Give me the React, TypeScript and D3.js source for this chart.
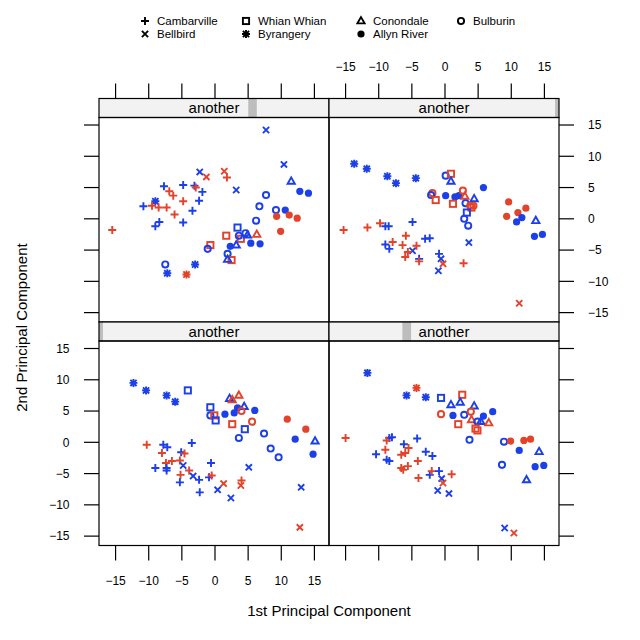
import React from "react";
import * as d3 from "d3";

const sites = ["Cambarville", "Bellbird", "Whian Whian", "Byrangery", "Conondale", "Allyn River", "Bulburin"];
const shapes = ["plus", "cross", "square", "asterisk", "triangle", "dot", "circle"];
const sexColor: Record<string, string> = { m: "#1b3fe8", f: "#e2432a" };
const stripLabel = "another";
const tickValues = [-15, -10, -5, 0, 5, 10, 15];

// [pc1, pc2, site, sex]
type Pt = [number, number, number, string];

const topLeft: Pt[] = [
  [7.7, 14.2, 1, "m"], [10.4, 8.7, 1, "m"], [11.5, 6.0, 4, "m"], [12.8, 4.4, 5, "m"], [14.1, 4.1, 5, "m"],
  [-2.3, 7.5, 1, "m"], [1.4, 7.6, 1, "f"], [1.8, 6.6, 0, "f"], [-1.3, 6.7, 1, "f"], [3.2, 4.6, 1, "m"],
  [7.7, 3.8, 6, "m"], [6.7, 2.0, 6, "m"], [9.2, 1.4, 6, "m"], [10.6, 1.4, 5, "m"], [9.3, 0.4, 5, "f"],
  [11.2, 0.6, 5, "f"], [12.4, 0.1, 5, "f"], [9.9, -2.0, 5, "f"], [6.2, -0.3, 6, "m"], [3.4, -1.4, 2, "m"],
  [1.7, -2.7, 2, "f"], [3.9, -3.2, 2, "f"], [3.6, -2.7, 6, "m"], [4.6, -2.3, 6, "m"], [4.9, -2.6, 4, "m"],
  [6.3, -2.5, 4, "f"], [5.4, -3.9, 5, "m"], [6.8, -4.0, 5, "m"], [2.3, -4.4, 5, "m"], [3.2, -4.2, 4, "m"],
  [-0.7, -4.2, 2, "f"], [-1.1, -4.8, 6, "m"], [1.9, -5.6, 6, "m"], [2.5, -6.6, 2, "f"], [1.9, -6.5, 4, "m"],
  [-7.5, -7.3, 6, "m"], [-7.2, -8.7, 3, "m"], [-3.0, -7.3, 3, "m"], [-4.3, -8.9, 3, "f"], [-15.5, -1.8, 0, "f"],
  [-10.8, 2.0, 0, "m"], [-9.0, -1.2, 0, "m"], [-8.4, -0.5, 0, "m"], [-4.8, -0.6, 0, "m"], [-7.7, 5.2, 0, "m"],
  [-4.8, 5.4, 0, "m"], [-3.1, 5.3, 0, "m"], [-2.9, 5.0, 0, "f"], [-1.9, 4.3, 0, "m"], [-2.4, 2.9, 0, "m"],
  [-3.4, 1.3, 0, "m"], [-4.8, 2.8, 0, "f"], [-6.9, 4.4, 0, "f"], [-6.3, 3.7, 0, "f"], [-9.0, 2.8, 3, "m"],
  [-9.5, 2.1, 0, "f"], [-8.5, 1.8, 0, "f"], [-7.3, 1.8, 0, "f"], [-6.1, 0.7, 0, "f"],
];

const topRight: Pt[] = [
  [-13.7, 8.8, 3, "m"], [-11.8, 8.0, 3, "m"], [-8.7, 6.8, 3, "m"], [-7.4, 5.7, 3, "m"], [-4.4, 6.5, 3, "m"],
  [0.1, 6.9, 6, "m"], [0.9, 7.2, 2, "f"], [0.9, 6.0, 4, "m"], [-1.9, 4.1, 6, "f"], [-2.1, 3.8, 6, "m"],
  [-1.4, 3.0, 2, "f"], [0.1, 3.7, 5, "m"], [1.5, 3.5, 5, "m"], [2.1, 3.7, 5, "m"], [1.2, 2.4, 2, "f"],
  [2.7, 4.5, 6, "f"], [3.0, 3.6, 4, "f"], [4.4, 3.2, 4, "m"], [3.1, 2.5, 6, "m"], [3.8, 2.1, 6, "f"],
  [4.3, 2.1, 6, "f"], [4.0, 1.8, 2, "f"], [5.8, 5.0, 5, "m"], [3.3, 1.0, 2, "m"], [2.9, 0.0, 6, "m"],
  [3.5, -1.1, 6, "m"], [9.6, 2.7, 5, "f"], [12.2, 1.7, 5, "f"], [11.0, 1.0, 5, "f"], [9.3, 0.4, 5, "f"],
  [11.6, 0.2, 5, "m"], [10.8, -0.5, 5, "m"], [13.7, -0.3, 4, "m"], [13.5, -2.8, 5, "m"], [14.7, -2.5, 5, "m"],
  [3.6, -3.8, 1, "m"], [11.2, -13.5, 1, "f"], [-15.3, -1.8, 0, "f"], [-11.7, -1.4, 0, "f"], [-9.8, -0.7, 0, "f"],
  [-9.0, -1.2, 0, "m"], [-8.5, -1.2, 0, "m"], [-4.9, -0.5, 0, "m"], [-5.9, -2.7, 0, "f"], [-3.0, -3.2, 0, "m"],
  [-2.3, -3.1, 0, "m"], [-7.9, -3.7, 0, "f"], [-9.0, -4.1, 0, "m"], [-8.4, -4.8, 0, "m"], [-6.4, -4.2, 0, "f"],
  [-4.3, -4.3, 0, "f"], [-4.9, -5.1, 1, "m"], [-5.6, -5.3, 0, "f"], [-6.0, -6.1, 0, "f"], [-3.9, -6.4, 0, "m"],
  [-3.9, -6.8, 0, "f"], [-0.9, -5.6, 0, "m"], [-0.6, -6.4, 1, "m"], [-0.3, -7.2, 1, "f"], [-1.0, -8.3, 1, "m"],
  [2.8, -7.1, 0, "f"],
];

const bottomLeft: Pt[] = [
  [-12.3, 9.5, 3, "m"], [-10.4, 8.3, 3, "m"], [-7.3, 7.5, 3, "m"], [-6.0, 6.5, 3, "m"], [-4.1, 8.3, 2, "m"],
  [2.2, 7.0, 4, "m"], [3.6, 7.5, 4, "f"], [2.6, 6.8, 4, "f"], [4.4, 5.7, 4, "m"], [3.4, 5.5, 5, "m"],
  [2.9, 4.7, 5, "m"], [1.5, 4.5, 5, "m"], [4.0, 5.0, 6, "f"], [6.0, 5.1, 5, "m"], [-0.7, 5.6, 2, "m"],
  [-0.7, 4.3, 6, "m"], [-0.1, 4.3, 2, "f"], [0.1, 3.5, 2, "m"], [2.6, 2.9, 2, "f"], [5.6, 3.3, 6, "f"],
  [4.5, 2.1, 2, "m"], [3.6, 0.7, 6, "m"], [7.4, 1.4, 6, "m"], [8.4, -1.0, 6, "m"], [9.6, -2.4, 6, "m"],
  [10.9, 3.7, 5, "f"], [13.7, 2.1, 5, "f"], [12.1, 0.5, 5, "m"], [15.1, 0.2, 4, "m"], [14.8, -1.9, 5, "m"],
  [5.1, -4.0, 1, "m"], [13.0, -7.2, 1, "m"], [12.8, -13.6, 1, "f"], [1.3, -6.6, 1, "f"], [4.0, -6.1, 0, "f"],
  [3.9, -6.9, 1, "f"], [0.4, -7.6, 1, "m"], [2.4, -8.9, 1, "m"], [-10.3, -0.4, 0, "f"], [-7.8, -0.4, 0, "m"],
  [-7.2, -0.8, 0, "m"], [-3.5, -0.1, 0, "m"], [-8.0, -1.7, 0, "f"], [-5.1, -1.6, 0, "m"], [-4.6, -1.8, 0, "f"],
  [-7.4, -3.3, 0, "f"], [-6.5, -3.0, 0, "f"], [-5.3, -2.9, 0, "f"], [-9.0, -4.1, 0, "m"], [-7.3, -4.1, 0, "m"],
  [-7.3, -4.5, 0, "m"], [-4.8, -3.7, 1, "m"], [-3.9, -4.5, 0, "f"], [-0.6, -3.3, 0, "m"], [-5.2, -5.2, 0, "f"],
  [-5.3, -6.4, 0, "m"], [-3.3, -5.4, 1, "m"], [-2.4, -6.0, 0, "m"], [-0.9, -5.6, 0, "m"], [-0.5, -5.3, 0, "f"],
  [-2.3, -8.0, 0, "m"],
];

const bottomRight: Pt[] = [
  [-11.7, 11.1, 3, "m"], [-4.3, 8.7, 3, "f"], [-5.8, 7.5, 3, "m"], [-2.9, 7.2, 3, "m"], [-0.6, 7.1, 2, "m"],
  [2.6, 7.6, 2, "f"], [0.9, 6.0, 4, "m"], [2.3, 6.4, 4, "m"], [4.4, 5.8, 4, "m"], [-0.6, 4.5, 6, "f"],
  [1.2, 4.3, 5, "m"], [2.9, 4.4, 6, "m"], [3.9, 4.9, 6, "f"], [4.0, 3.6, 4, "f"], [5.8, 4.2, 5, "m"],
  [7.2, 4.9, 5, "m"], [4.9, 3.3, 6, "m"], [5.4, 3.3, 4, "m"], [6.6, 3.1, 4, "f"], [2.0, 2.9, 2, "f"],
  [4.6, 2.2, 2, "f"], [4.9, 1.9, 2, "f"], [3.7, 0.4, 6, "m"], [8.9, 0.1, 6, "m"], [9.9, 0.2, 5, "f"],
  [11.9, 0.3, 5, "f"], [12.9, 0.5, 5, "f"], [11.2, -1.3, 5, "m"], [14.2, -1.5, 4, "m"], [13.6, -3.9, 5, "m"],
  [14.9, -3.7, 5, "m"], [8.6, -3.6, 6, "m"], [12.3, -6.0, 4, "m"], [9.0, -13.7, 1, "m"], [10.4, -14.5, 1, "f"],
  [-15.0, 0.7, 0, "f"], [-8.4, 0.7, 0, "m"], [-8.0, 0.8, 0, "m"], [-8.8, 0.3, 0, "f"], [-6.2, -0.3, 0, "m"],
  [-4.2, 0.6, 0, "m"], [-5.5, -0.9, 0, "f"], [-9.0, -1.2, 0, "f"], [-10.4, -1.9, 0, "m"], [-6.0, -1.7, 0, "f"],
  [-6.6, -2.0, 0, "f"], [-2.9, -1.5, 0, "m"], [-1.9, -2.2, 0, "m"], [-8.8, -2.8, 0, "m"], [-8.4, -3.0, 0, "m"],
  [-4.1, -3.0, 0, "f"], [-5.6, -3.8, 0, "f"], [-6.6, -4.1, 0, "f"], [-6.3, -4.4, 0, "f"], [-2.3, -5.2, 0, "m"],
  [-2.0, -4.6, 0, "f"], [-0.9, -4.6, 0, "m"], [-0.5, -5.8, 1, "m"], [-0.3, -6.5, 1, "f"], [1.0, -5.1, 0, "f"],
  [-4.0, -5.7, 0, "f"], [-1.1, -7.7, 1, "m"], [0.6, -8.2, 1, "m"],
];

// strip level indicator, as fraction of strip width
const stripLevels: [number, number][] = [[0.649, 0.686], [0.983, 1], [0, 0.017], [0.319, 0.357]];

const panelW = 230;
const plotH = 204.5;
const stripH = 19;
const left = 99;
const top = 98.5;
const font = "'Liberation Sans', Arial, Helvetica, sans-serif";

const x = d3.scaleLinear().domain([-17.5, 17.2]).range([0, panelW]);
const y = d3.scaleLinear().domain([-16.5, 16.2]).range([plotH, 0]);

const fmt = (t: number) => d3.format("")(t).replace("-", "\u2212");

function Symbol({ shape, color, cx, cy }: { shape: string; color: string; cx: number; cy: number }) {
  const s = 4;
  const c = 3.1;
  const sw = 1.9;
  const t = `translate(${cx},${cy})`;
  if (shape === "plus")
    return <path transform={t} d={`M${-s},0H${s}M0,${-s}V${s}`} stroke={color} strokeWidth={sw} fill="none" />;
  if (shape === "cross")
    return <path transform={t} d={`M${-c},${-c}L${c},${c}M${-c},${c}L${c},${-c}`} stroke={color} strokeWidth={sw} fill="none" />;
  if (shape === "asterisk")
    return (
      <path transform={t} d={`M${-s},0H${s}M0,${-s}V${s}M${-c},${-c}L${c},${c}M${-c},${c}L${c},${-c}`}
        stroke={color} strokeWidth={sw} fill="none" />
    );
  if (shape === "square")
    return <rect transform={t} x={-3.1} y={-3.1} width={6.2} height={6.2} stroke={color} strokeWidth={sw} fill="none" />;
  if (shape === "triangle")
    return <path transform={t} d="M0,-3.9L3.6,2.4H-3.6Z" stroke={color} strokeWidth={sw} fill="none" strokeLinejoin="miter" />;
  if (shape === "dot") return <circle cx={cx} cy={cy} r={3.6} fill={color} />;
  return <circle cx={cx} cy={cy} r={3.1} stroke={color} strokeWidth={sw} fill="none" />;
}

function Panel({ data, col, row, level }: { data: Pt[]; col: number; row: number; level: [number, number] }) {
  const px = left + col * panelW;
  const sy = top + row * (stripH + plotH);
  const py = sy + stripH;
  return (
    <g>
      <rect x={px} y={sy} width={panelW} height={stripH} fill="#f2f2f2" />
      <rect x={px + level[0] * panelW} y={sy} width={(level[1] - level[0]) * panelW} height={stripH} fill="#bdbdbd" />
      <rect x={px} y={sy} width={panelW} height={stripH} fill="none" stroke="#000" strokeWidth={1.2} />
      <text x={px + panelW / 2} y={sy + 14.5} textAnchor="middle" fontSize={15} fontFamily={font} fill="#000">
        {stripLabel}
      </text>
      <g transform={`translate(${px},${py})`}>
        {data.map((d, i) => (
          <Symbol key={i} shape={shapes[d[2]]} color={sexColor[d[3]]} cx={x(d[0])} cy={y(d[1])} />
        ))}
      </g>
      <rect x={px} y={py} width={panelW} height={plotH} fill="none" stroke="#000" strokeWidth={1.2} />
    </g>
  );
}

export default function App() {
  const tickLen = 15;
  const bottomY = top + 2 * (stripH + plotH);
  const rightX = left + 2 * panelW;
  const panels = [topLeft, topRight, bottomLeft, bottomRight];
  const legendCols = [[0, 1], [2, 3], [4, 5], [6]];
  const legendX = [145, 246, 361, 461];
  const legendY = [21, 34];
  return (
    <div style={{ position: "absolute", left: 0, top: 0 }}>
      <svg width={640} height={640} style={{ display: "block", background: "#fff" }}>
        {legendCols.map((col, ci) =>
          col.map((si, ri) => (
            <g key={si}>
              <Symbol shape={shapes[si]} color="#000" cx={legendX[ci]} cy={legendY[ri]} />
              <text x={legendX[ci] + 12} y={legendY[ri] + 4} fontSize={11.5} fontFamily={font} fill="#000">
                {sites[si]}
              </text>
            </g>
          ))
        )}

        {panels.map((p, i) => (
          <Panel key={i} data={p} col={i % 2} row={Math.floor(i / 2)} level={stripLevels[i]} />
        ))}

        {/* top and bottom axes */}
        {[0, 1].map((c) =>
          tickValues.map((t) => {
            const tx = left + c * panelW + x(t);
            return (
              <g key={`x${c}${t}`}>
                <line x1={tx} x2={tx} y1={top} y2={top - tickLen} stroke="#000" strokeWidth={1.2} />
                <line x1={tx} x2={tx} y1={bottomY} y2={bottomY + tickLen} stroke="#000" strokeWidth={1.2} />
                {c === 1 && (
                  <text x={tx} y={71} textAnchor="middle" fontSize={12} fontFamily={font}>
                    {fmt(t)}
                  </text>
                )}
                {c === 0 && (
                  <text x={tx} y={584.5} textAnchor="middle" fontSize={12} fontFamily={font}>
                    {fmt(t)}
                  </text>
                )}
              </g>
            );
          })
        )}

        {/* left and right axes */}
        {[0, 1].map((r) =>
          tickValues.map((t) => {
            const ty = top + stripH + r * (stripH + plotH) + y(t);
            return (
              <g key={`y${r}${t}`}>
                <line x1={left} x2={left - tickLen} y1={ty} y2={ty} stroke="#000" strokeWidth={1.2} />
                <line x1={rightX} x2={rightX + tickLen} y1={ty} y2={ty} stroke="#000" strokeWidth={1.2} />
                {r === 1 && (
                  <text x={69.5} y={ty + 4.3} textAnchor="end" fontSize={12} fontFamily={font}>
                    {fmt(t)}
                  </text>
                )}
                {r === 0 && (
                  <text x={588} y={ty + 4.3} textAnchor="start" fontSize={12} fontFamily={font}>
                    {fmt(t)}
                  </text>
                )}
              </g>
            );
          })
        )}

        <text x={329} y={615.5} textAnchor="middle" fontSize={15} fontFamily={font}>
          1st Principal Component
        </text>
        <text transform="translate(27,327.5) rotate(-90)" textAnchor="middle" fontSize={15} fontFamily={font}>
          2nd Principal Component
        </text>
      </svg>
    </div>
  );
}
